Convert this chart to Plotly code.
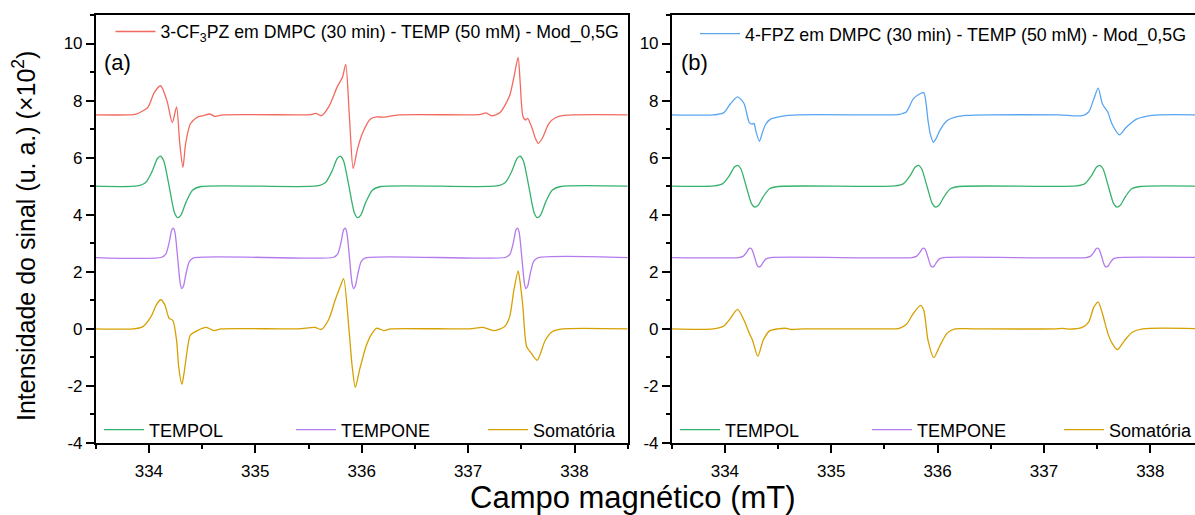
import plotly.graph_objects as go

# ---------------- Panel (a): 3-CF3PZ ----------------
exp_a_x = [333.50, 333.80, 333.88, 333.99, 334.05, 334.11, 334.17, 334.22, 334.26, 334.29, 334.32,
           334.345, 334.39, 334.46, 334.52, 334.57, 334.62, 334.70,
           335.40, 335.52, 335.57, 335.62, 335.69, 335.77, 335.82, 335.85, 335.885, 335.92,
           335.96, 336.01, 336.08, 336.14, 336.21, 336.35,
           337.00, 337.12, 337.17, 337.22, 337.30, 337.39, 337.43, 337.47, 337.49, 337.515,
           337.54, 337.56, 337.60, 337.63, 337.66, 337.70, 337.76, 337.82, 337.90, 338.50]
exp_a_y = [7.50, 7.50, 7.53, 7.76, 8.28, 8.52, 7.99, 7.23, 7.78, 6.49, 5.66,
           6.49, 7.19, 7.43, 7.48, 7.53, 7.45, 7.50,
           7.50, 7.51, 7.55, 7.47, 7.78, 8.48, 8.83, 9.27, 7.40, 5.62,
           6.30, 6.88, 7.35, 7.43, 7.42, 7.50,
           7.50, 7.52, 7.57, 7.47, 7.58, 8.17, 8.81, 9.51, 8.60, 7.45,
           7.32, 7.38, 7.05, 6.70, 6.50, 6.70, 7.20, 7.40, 7.48, 7.50]

tempol_a_x = [333.50,
              333.89, 333.97, 334.03, 334.08, 334.11, 334.14, 334.19, 334.24, 334.27, 334.30, 334.35, 334.41, 334.49,
              335.58, 335.66, 335.72, 335.77, 335.80, 335.83, 335.88, 335.93, 335.96, 335.99, 336.04, 336.10, 336.18,
              337.27, 337.35, 337.41, 337.46, 337.49, 337.52, 337.57, 337.62, 337.65, 337.68, 337.73, 337.79, 337.87,
              338.50]
tempol_a_y = [5.00,
              5.01, 5.13, 5.52, 5.97, 6.05, 5.88, 5.00, 4.08, 3.90, 3.98, 4.45, 4.86, 4.99,
              5.01, 5.13, 5.52, 5.97, 6.05, 5.88, 5.00, 4.08, 3.90, 3.98, 4.45, 4.86, 4.99,
              5.01, 5.13, 5.52, 5.97, 6.05, 5.88, 5.00, 4.08, 3.90, 3.98, 4.45, 4.86, 4.99,
              5.00]

tempone_a_x = [333.50,
               334.12, 334.16, 334.19, 334.215, 334.23, 334.245, 334.27, 334.295, 334.31, 334.325, 334.35, 334.38, 334.42,
               335.735, 335.775, 335.805, 335.83, 335.845, 335.86, 335.885, 335.91, 335.925, 335.94, 335.965, 335.995, 336.035,
               337.355, 337.395, 337.425, 337.45, 337.465, 337.48, 337.505, 337.53, 337.545, 337.56, 337.585, 337.615, 337.655,
               338.50]
tempone_a_y = [2.50,
               2.51, 2.63, 3.02, 3.47, 3.53, 3.38, 2.50, 1.58, 1.41, 1.50, 1.95, 2.36, 2.49,
               2.51, 2.63, 3.02, 3.47, 3.53, 3.38, 2.50, 1.58, 1.41, 1.50, 1.95, 2.36, 2.49,
               2.51, 2.63, 3.02, 3.47, 3.53, 3.38, 2.50, 1.58, 1.41, 1.50, 1.95, 2.36, 2.49,
               2.50]

soma_a_x = [333.50, 333.85, 333.94, 334.02, 334.07, 334.11, 334.15, 334.19, 334.225, 334.26, 334.28,
            334.31, 334.33, 334.36, 334.39, 334.46, 334.54, 334.61, 334.68,
            335.40, 335.56, 335.62, 335.69, 335.75, 335.80, 335.83, 335.88, 335.91, 335.94,
            335.98, 336.04, 336.09, 336.14, 336.21, 336.27,
            337.01, 337.14, 337.24, 337.34, 337.39, 337.43, 337.47, 337.49, 337.515, 337.55,
            337.595, 337.65, 337.725, 337.79, 337.89, 338.50]
soma_a_y = [0.00, 0.00, 0.07, 0.43, 0.84, 1.02, 0.84, 0.37, 0.30, -0.40, -1.33,
            -1.94, -1.56, -0.75, -0.22, -0.05, 0.05, -0.06, 0.00,
            0.00, 0.05, -0.02, 0.33, 1.00, 1.50, 1.76, 0.00, -1.30, -2.05,
            -1.44, -0.62, -0.20, 0.02, -0.06, 0.00,
            0.00, 0.05, -0.06, 0.07, 0.42, 1.35, 2.03, 1.60, 0.77, -0.62,
            -0.86, -1.10, -0.40, -0.10, 0.00, 0.00]

# ---------------- Panel (b): 4-FPZ ----------------
exp_b_x = [333.50, 333.89, 333.99, 334.05, 334.12, 334.18, 334.23, 334.26, 334.275, 334.29, 334.325,
           334.35, 334.385, 334.43, 334.53, 334.69,
           335.55, 335.64, 335.705, 335.77, 335.83, 335.87, 335.91, 335.93, 335.96, 335.99,
           336.02, 336.09, 336.165, 336.28, 336.50,
           337.135, 337.36, 337.42, 337.47, 337.51, 337.55, 337.60, 337.64, 337.71, 337.77,
           337.87, 337.96, 338.09, 338.50]
exp_b_y = [7.50, 7.50, 7.58, 7.88, 8.13, 7.90, 7.23, 7.18, 7.20, 6.95, 6.57,
           6.85, 7.18, 7.35, 7.45, 7.50,
           7.50, 7.52, 7.60, 8.05, 8.23, 8.27, 7.30, 6.85, 6.54, 6.70,
           6.95, 7.30, 7.42, 7.48, 7.50,
           7.50, 7.47, 7.60, 8.07, 8.44, 7.88, 7.60, 7.18, 6.80, 7.05,
           7.35, 7.45, 7.50, 7.50]

tempol_b_x = [333.50,
              333.90, 333.98, 334.04, 334.09, 334.12, 334.15, 334.20, 334.25, 334.28, 334.31, 334.36, 334.42, 334.50,
              335.60, 335.68, 335.74, 335.79, 335.82, 335.85, 335.90, 335.95, 335.98, 336.01, 336.06, 336.12, 336.20,
              337.305, 337.385, 337.445, 337.495, 337.525, 337.555, 337.605, 337.655, 337.685, 337.715, 337.765, 337.825, 337.905,
              338.50]
tempol_b_y = [5.00,
              5.01, 5.09, 5.36, 5.67, 5.73, 5.61, 5.00, 4.39, 4.27, 4.32, 4.63, 4.91, 4.99,
              5.01, 5.09, 5.36, 5.67, 5.73, 5.61, 5.00, 4.39, 4.27, 4.32, 4.63, 4.91, 4.99,
              5.01, 5.09, 5.36, 5.67, 5.73, 5.61, 5.00, 4.39, 4.27, 4.32, 4.63, 4.91, 4.99,
              5.00]

tempone_b_x = [333.50,
               334.13, 334.17, 334.20, 334.225, 334.24, 334.255, 334.28, 334.305, 334.32, 334.335, 334.36, 334.39, 334.43,
               335.76, 335.80, 335.83, 335.855, 335.87, 335.885, 335.91, 335.935, 335.95, 335.965, 335.99, 336.02, 336.06,
               337.395, 337.435, 337.465, 337.49, 337.505, 337.52, 337.545, 337.57, 337.585, 337.60, 337.625, 337.655, 337.695,
               338.50]
tempone_b_y = [2.50,
               2.50, 2.54, 2.66, 2.81, 2.83, 2.78, 2.50, 2.22, 2.17, 2.19, 2.33, 2.46, 2.50,
               2.50, 2.54, 2.66, 2.81, 2.83, 2.78, 2.50, 2.22, 2.17, 2.19, 2.33, 2.46, 2.50,
               2.50, 2.54, 2.66, 2.81, 2.83, 2.78, 2.50, 2.22, 2.17, 2.19, 2.33, 2.46, 2.50,
               2.50]

soma_b_x = [333.50, 333.89, 333.99, 334.05, 334.12, 334.18, 334.23, 334.26, 334.31, 334.36,
            334.42, 334.50, 334.58, 334.62, 334.75,
            335.51, 335.64, 335.705, 335.77, 335.84, 335.87, 335.91, 335.965, 336.02, 336.09,
            336.165, 336.34,
            337.10, 337.17, 337.23, 337.36, 337.42, 337.47, 337.51, 337.55, 337.60, 337.64,
            337.69, 337.755, 337.83, 337.93, 338.50]
soma_b_y = [0.00, 0.00, 0.10, 0.36, 0.68, 0.30, -0.16, -0.40, -0.96, -0.40,
            -0.07, 0.00, 0.02, -0.02, 0.00,
            0.00, 0.02, 0.15, 0.53, 0.82, 0.65, -0.40, -1.01, -0.60, -0.15,
            0.00, 0.00,
            0.00, 0.02, -0.01, 0.05, 0.24, 0.77, 0.94, 0.53, -0.15, -0.50,
            -0.73, -0.42, -0.12, 0.00, 0.00]

x_ticks = [334, 335, 336, 337, 338]
y_ticks = [-4, -2, 0, 2, 4, 6, 8, 10]
y_tick_text = ["-4", "-2", "0", "2", "4", "6", "8", "10"]

RED = "#F26A5F"
BLUE = "#5AA5F2"
GREEN = "#36B26C"
PURPLE = "#B47AEE"
GOLD = "#D6A000"
FONT = "Liberation Sans, Arial, sans-serif"
W, H = 1195, 515

fig = go.Figure()


def add_line(x, y, name, color, xa, ya, legend):
    fig.add_trace(go.Scatter(
        x=x, y=y, name=name, mode="lines", showlegend=True,
        line=dict(color=color, width=1.3, shape="spline", smoothing=0.7),
        xaxis=xa, yaxis=ya, legend=legend))


add_line(exp_a_x, exp_a_y, "3-CF<sub>3</sub>PZ em DMPC (30 min) - TEMP (50 mM) - Mod_0,5G",
         RED, "x", "y", "legend")
add_line(tempol_a_x, tempol_a_y, "TEMPOL", GREEN, "x", "y", "legend2")
add_line(tempone_a_x, tempone_a_y, "TEMPONE", PURPLE, "x", "y", "legend2")
add_line(soma_a_x, soma_a_y, "Somatória", GOLD, "x", "y", "legend2")

add_line(exp_b_x, exp_b_y, "4-FPZ em DMPC (30 min) - TEMP (50 mM) - Mod_0,5G",
         BLUE, "x2", "y2", "legend3")
add_line(tempol_b_x, tempol_b_y, "TEMPOL", GREEN, "x2", "y2", "legend4")
add_line(tempone_b_x, tempone_b_y, "TEMPONE", PURPLE, "x2", "y2", "legend4")
add_line(soma_b_x, soma_b_y, "Somatória", GOLD, "x2", "y2", "legend4")


def px_x(v):
    return v / W


def px_y(v):
    return 1 - v / H


axis_common = dict(
    showline=True, linecolor="black", linewidth=1.5,
    ticks="outside", ticklen=8, tickwidth=1.5, tickcolor="black",
    showgrid=False, zeroline=False,
    tickfont=dict(family=FONT, size=17, color="black"),
)

x_common = dict(axis_common, tickvals=x_ticks,
                minor=dict(ticks="outside", ticklen=4, tickwidth=1.5, tickcolor="black",
                           tick0=333.5, dtick=1, showgrid=False),
                ticklabelstandoff=4)
y_common = dict(axis_common, range=[-4, 11], tickvals=y_ticks, ticktext=y_tick_text,
                minor=dict(ticks="outside", ticklen=4, tickwidth=1.5, tickcolor="black",
                           tick0=-3, dtick=2, showgrid=False))

y_dom = [px_y(443), px_y(15)]

legend_common = dict(xanchor="left", yanchor="middle", bgcolor="rgba(0,0,0,0)",
                     font=dict(family=FONT, size=18), itemwidth=40,
                     tracegroupgap=0)

fig.update_layout(
    width=W, height=H, autosize=False, showlegend=True,
    margin=dict(l=0, r=0, t=0, b=0, pad=0, autoexpand=False),
    paper_bgcolor="white", plot_bgcolor="white",
    font=dict(family=FONT, color="black"),
    xaxis=dict(x_common, domain=[px_x(95.7), px_x(627.7)], range=[333.5, 338.5],
               anchor="y", mirror=True, automargin=False),
    yaxis=dict(y_common, domain=y_dom, anchor="x", mirror=True, automargin=False),
    xaxis2=dict(x_common, domain=[px_x(671.7), 1.0], range=[333.5, 338.42],
                anchor="y2", mirror=True, automargin=False),
    yaxis2=dict(y_common, domain=y_dom, anchor="x2", mirror=False, automargin=False),
    legend=dict(legend_common, x=px_x(110.5), y=px_y(32),
                font=dict(family=FONT, size=17.7)),
    legend2=dict(legend_common, x=px_x(99), y=px_y(430),
                 orientation="h", entrywidth=137, entrywidthmode="pixels"),
    legend3=dict(legend_common, x=px_x(695), y=px_y(34),
                 font=dict(family=FONT, size=17.8)),
    legend4=dict(legend_common, x=px_x(675), y=px_y(430),
                 orientation="h", entrywidth=137, entrywidthmode="pixels"),
    annotations=[
        dict(text="(a)", x=px_x(101.7), y=px_y(63), xref="paper", yref="paper",
             xanchor="left", yanchor="middle", showarrow=False,
             font=dict(family=FONT, size=22)),
        dict(text="(b)", x=px_x(679), y=px_y(63), xref="paper", yref="paper",
             xanchor="left", yanchor="middle", showarrow=False,
             font=dict(family=FONT, size=22)),
        dict(text="Campo magnético (mT)", x=px_x(633), y=px_y(497), xref="paper", yref="paper",
             xanchor="center", yanchor="middle", showarrow=False,
             font=dict(family=FONT, size=31)),
        dict(text="Intensidade do sinal (u. a.) (×10<sup>2</sup>)", x=px_x(24), y=px_y(236),
             xref="paper", yref="paper", textangle=-90,
             xanchor="center", yanchor="middle", showarrow=False,
             font=dict(family=FONT, size=25)),
    ],
)

fig.write_html("out.html")
